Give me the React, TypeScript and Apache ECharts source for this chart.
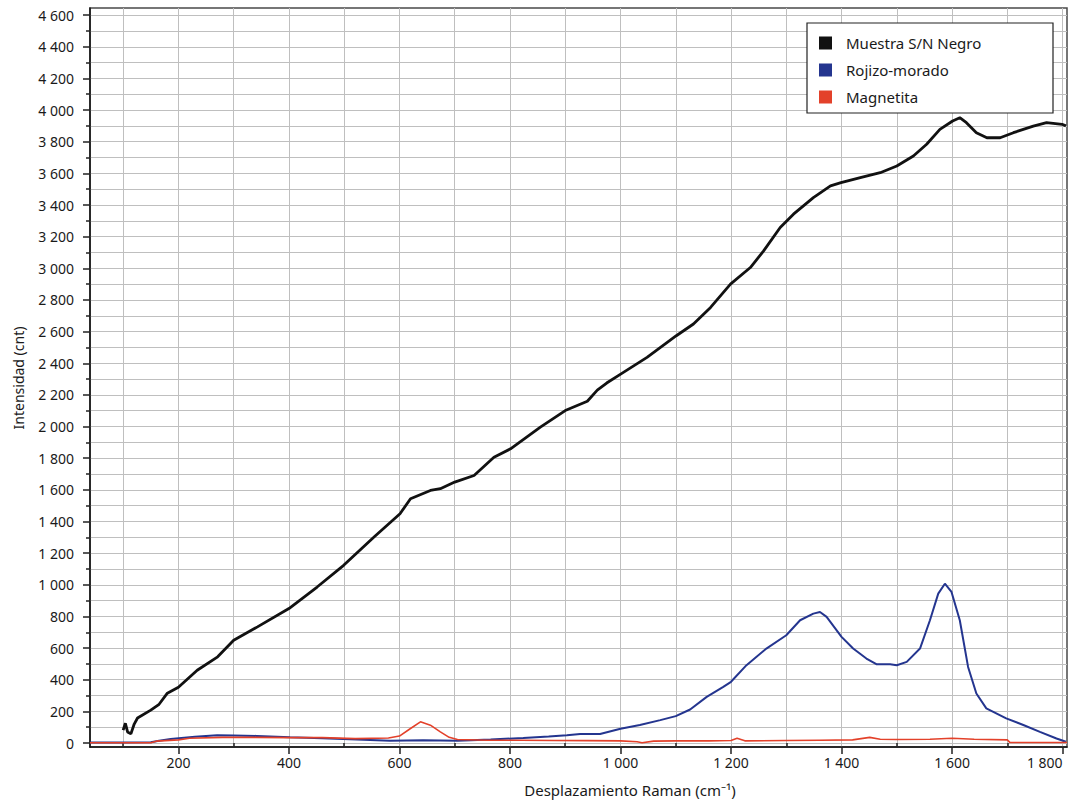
import React, { useEffect, useRef } from 'react';
import * as echarts from 'echarts';

const seriesNames = ['Muestra S/N Negro', 'Rojizo-morado', 'Magnetita'];
const seriesColors = ['#111111', '#24358f', '#e3412a'];

const xTitle = 'Desplazamiento Raman (cm⁻¹)';
const yTitle = 'Intensidad (cnt)';

const xMajorTicks = [200, 400, 600, 800, 1000, 1200, 1400, 1600, 1800];
const xMinorTicks = [100, 300, 500, 700, 900, 1100, 1300, 1500, 1700];
const yMajorTicks = [0, 200, 400, 600, 800, 1000, 1200, 1400, 1600, 1800, 2000, 2200, 2400, 2600, 2800, 3000, 3200, 3400, 3600, 3800, 4000, 4200, 4400, 4600];
const yMinorTicks = [100, 300, 500, 700, 900, 1100, 1300, 1500, 1700, 1900, 2100, 2300, 2500, 2700, 2900, 3100, 3300, 3500, 3700, 3900, 4100, 4300, 4500];

const negro: [number, number][] = [
  [100, 82], [104, 125], [108, 70], [114, 58], [120, 120], [126, 158], [150, 208], [165, 245],
  [180, 315], [200, 353], [234, 460], [271, 545], [300, 650], [343, 734], [400, 850],
  [451, 986], [499, 1123], [554, 1302], [601, 1449], [620, 1544], [656, 1596], [674, 1607],
  [700, 1649], [735, 1691], [771, 1806], [801, 1859], [855, 1996], [900, 2101], [940, 2160],
  [958, 2230], [975, 2275], [1001, 2333], [1048, 2437], [1101, 2574], [1132, 2648], [1163, 2753],
  [1199, 2900], [1235, 3005], [1259, 3110], [1289, 3258], [1313, 3342], [1349, 3447],
  [1380, 3521], [1399, 3541], [1434, 3573], [1470, 3604], [1500, 3647], [1530, 3710],
  [1554, 3784], [1578, 3878], [1601, 3931], [1614, 3952], [1626, 3920], [1644, 3857],
  [1663, 3825], [1687, 3825], [1711, 3857], [1747, 3899], [1771, 3920], [1799, 3910], [1806, 3900],
];

const rojizo: [number, number][] = [
  [40, 4], [100, 4], [150, 5], [165, 15], [186, 25], [230, 40], [270, 50], [300, 48],
  [342, 45], [402, 36], [460, 30], [523, 23], [583, 15], [643, 18], [705, 15], [765, 22],
  [824, 32], [870, 42], [903, 50], [927, 57], [963, 57], [1000, 90], [1035, 114],
  [1072, 145], [1100, 170], [1126, 212], [1156, 292], [1186, 355], [1200, 387],
  [1228, 492], [1264, 597], [1300, 681], [1325, 776], [1349, 818], [1361, 828],
  [1373, 797], [1400, 671], [1421, 597], [1445, 534], [1463, 498], [1488, 498],
  [1500, 492], [1518, 513], [1542, 597], [1560, 776], [1575, 944], [1587, 1007],
  [1599, 955], [1614, 776], [1629, 481], [1644, 313], [1662, 219], [1698, 156],
  [1729, 114], [1759, 71], [1789, 29], [1806, 8],
];

const magnetita: [number, number][] = [
  [40, 2], [150, 2], [160, 12], [200, 20], [220, 30], [280, 36], [340, 36], [400, 34],
  [460, 34], [520, 28], [580, 32], [600, 44], [620, 92], [638, 134], [656, 113],
  [674, 71], [690, 36], [705, 22], [760, 18], [820, 18], [880, 16], [940, 15],
  [1000, 14], [1030, 8], [1039, 2], [1060, 12], [1100, 14], [1160, 14], [1200, 16],
  [1211, 30], [1225, 14], [1300, 16], [1360, 18], [1420, 20], [1451, 36], [1470, 24],
  [1500, 22], [1560, 24], [1600, 30], [1640, 24], [1700, 20], [1705, 3], [1808, 3],
];

const FONT = '"Noto Sans", "DejaVu Sans", sans-serif';

const fmt = (v: number) => String(v).replace(/\B(?=(\d{3})+(?!\d))/g, ' ');

export default function App() {
  const ref = useRef<HTMLDivElement>(null);

  useEffect(() => {
    if (!ref.current) return;
    const chart = echarts.init(ref.current, undefined, { renderer: 'svg' });

    const gridLine = { show: true, lineStyle: { color: '#bfbfbf', width: 1 } };
    const xRange = { min: 40, max: 1808 };
    const yRange = { min: -25, max: 4645 };

    chart.setOption({
      animation: false,
      backgroundColor: '#ffffff',
      textStyle: { fontFamily: FONT },
      grid: {
        left: 90, right: 5, top: 8, bottom: 54,
        show: true, borderColor: '#4a4a4a', borderWidth: 1.5, backgroundColor: '#ffffff',
      },
      legend: {
        orient: 'vertical',
        left: 819,
        top: 35,
        padding: 0,
        itemWidth: 13,
        itemHeight: 13,
        itemGap: 11,
        icon: 'rect',
        selectedMode: false,
        z: 6,
        data: seriesNames,
        textStyle: { fontFamily: FONT, fontSize: 15, color: '#1a1a1a', padding: [0, 0, 0, 9], lineHeight: 16 },
      },
      xAxis: [
        {
          type: 'value', ...xRange, position: 'bottom',
          axisLine: { show: true, onZero: false, lineStyle: { color: '#111', width: 1.5 } },
          axisTick: { show: true, length: 7, customValues: xMajorTicks, lineStyle: { color: '#222', width: 1.5 } },
          axisLabel: {
            show: true, customValues: xMajorTicks, formatter: fmt, margin: 8,
            fontSize: 14, color: '#1a1a1a', fontFamily: FONT, alignMaxLabel: 'right',
          },
          splitLine: gridLine,
        },
        {
          type: 'value', ...xRange, position: 'bottom',
          axisLine: { show: false },
          axisTick: { show: true, length: 4, customValues: xMinorTicks, lineStyle: { color: '#222', width: 1.5 } },
          axisLabel: { show: false },
          splitLine: gridLine,
        },
      ],
      yAxis: [
        {
          type: 'value', ...yRange, position: 'left',
          axisLine: { show: true, onZero: false, lineStyle: { color: '#111', width: 1.5 } },
          axisTick: { show: true, length: 7, customValues: yMajorTicks, lineStyle: { color: '#222', width: 1.5 } },
          axisLabel: {
            show: true, customValues: yMajorTicks, formatter: fmt, margin: 16,
            fontSize: 14, color: '#1a1a1a', fontFamily: FONT,
          },
          splitLine: gridLine,
        },
        {
          type: 'value', ...yRange, position: 'left',
          axisLine: { show: false },
          axisTick: { show: true, length: 4, customValues: yMinorTicks, lineStyle: { color: '#222', width: 1.5 } },
          axisLabel: { show: false },
          splitLine: gridLine,
        },
      ],
      graphic: [
        {
          type: 'rect', z: 5, shape: { x: 807, y: 23, width: 246, height: 90 },
          style: { fill: '#ffffff', stroke: '#222222', lineWidth: 1.2 },
        },
        {
          type: 'text', x: 630, y: 790,
          style: { text: xTitle, fontFamily: FONT, fontSize: 15, fill: '#1a1a1a', align: 'center', verticalAlign: 'middle' },
        },
        {
          type: 'text', x: 18, y: 378, rotation: Math.PI / 2,
          style: { text: yTitle, fontFamily: FONT, fontSize: 14, fill: '#1a1a1a', align: 'center', verticalAlign: 'middle' },
        },
      ],
      series: [
        {
          name: seriesNames[0], type: 'line', data: negro, xAxisIndex: 0, yAxisIndex: 0,
          showSymbol: false, color: seriesColors[0], lineStyle: { width: 2.8, color: seriesColors[0] }, z: 3,
        },
        {
          name: seriesNames[1], type: 'line', data: rojizo, xAxisIndex: 0, yAxisIndex: 0,
          showSymbol: false, color: seriesColors[1], lineStyle: { width: 2, color: seriesColors[1] }, z: 2,
        },
        {
          name: seriesNames[2], type: 'line', data: magnetita, xAxisIndex: 0, yAxisIndex: 0,
          showSymbol: false, color: seriesColors[2], lineStyle: { width: 1.6, color: seriesColors[2] }, z: 3,
        },
      ],
    });

    return () => chart.dispose();
  }, []);

  return <div ref={ref} style={{ position: 'fixed', left: 0, top: 0, width: 1072, height: 801 }} />;
}
